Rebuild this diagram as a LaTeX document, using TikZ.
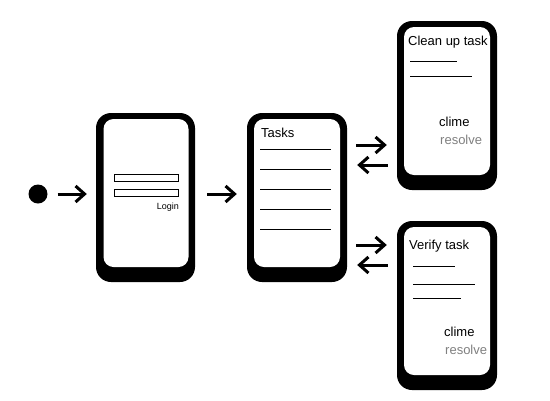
\documentclass[tikz,border=0pt]{standalone}
\usepackage{fontspec}
\setmainfont{Liberation Sans}
\usetikzlibrary{arrows.meta}
\begin{document}
\begin{tikzpicture}[x=1pt,y=-1pt,
  phone/.style={fill=black,rounded corners=15pt,minimum width=100pt,minimum height=169pt,inner sep=0pt},
  screen/.style={fill=white,rounded corners=10pt,minimum width=86pt,minimum height=148pt,inner sep=0pt},
  bar/.style={draw=black,fill=white,line width=1pt,minimum width=64pt,minimum height=7pt,inner sep=0pt},
  arr/.style={line width=3pt,-{Straight Barb[length=9pt,width=16pt]}},
  rule/.style={line width=0.9pt},
  txt/.style={inner sep=0pt,anchor=west,font=\fontsize{13}{15}\selectfont},
  gtxt/.style={txt,text=black!50},
]
\useasboundingbox (0,0) rectangle (550,400);
% start dot
\node[circle,fill=black,minimum size=19pt,inner sep=0pt] (start) at (38,194) {};
% phones
\node[phone,minimum width=99pt] (p1) at (145.5,197.5) {};
\node[screen,minimum width=85pt] (s1) at (146,193) {};
\node[phone] (p2) at (297,197.5) {};
\node[screen] (s2) at (297,193) {};
\node[phone] (p3) at (447,105.5) {};
\node[screen] (s3) at (447,101) {};
\node[phone] (p4) at (447,305.5) {};
\node[screen] (s4) at (447,301) {};
% login screen
\node[bar] (b1) at (146,177.5) {};
\node[bar] (b2) at (146,192.5) {};
\node[inner sep=0pt,anchor=east,font=\fontsize{9}{10}\selectfont] (login) at (179,207) {Login};
% tasks screen
\node[txt] (tasks) at (261,133) {Tasks};
\foreach \yy in {149,169,189,209,229} \draw[rule] (260,\yy) -- (331,\yy);
% clean up screen
\node[txt] (clean) at (408,42) {Clean up task};
\draw[rule] (410,61) -- (457,61);
\draw[rule] (410,76) -- (472,76);
\node[txt] (c1) at (439,122) {clime};
\node[gtxt] (r1) at (440,140) {resolve};
% verify screen
\node[txt] (verify) at (409,246) {Verify task};
\draw[rule] (413,266) -- (455,266);
\draw[rule] (413,284) -- (475,284);
\draw[rule] (413,298) -- (461,298);
\node[txt] (c2) at (444,332) {clime};
\node[gtxt] (r2) at (445,350) {resolve};
% arrows
\draw[arr,shorten <=10pt,shorten >=9pt] (start) -- (p1.west |- start);
\draw[arr,shorten <=12pt,shorten >=10pt] (p1.east |- 0,194) -- (p2.west |- 0,194);
\draw[arr,shorten <=9pt,shorten >=10pt] (p2.east |- 0,145) -- (p3.west |- 0,145);
\draw[arr,shorten <=9pt,shorten >=10pt] (p3.west |- 0,165) -- (p2.east |- 0,165);
\draw[arr,shorten <=9pt,shorten >=10pt] (p2.east |- 0,245) -- (p4.west |- 0,245);
\draw[arr,shorten <=9pt,shorten >=10pt] (p4.west |- 0,265) -- (p2.east |- 0,265);
\end{tikzpicture}
\end{document}
